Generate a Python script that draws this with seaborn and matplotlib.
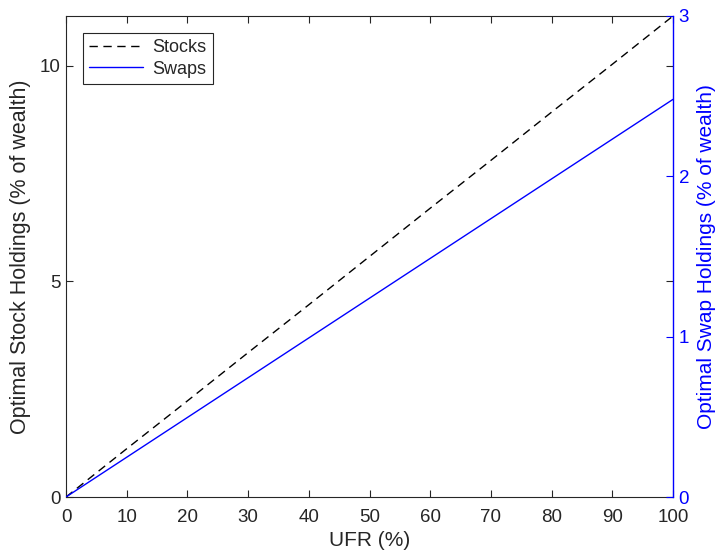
import numpy as np
import pandas as pd
import matplotlib
matplotlib.use("Agg")
import matplotlib.pyplot as plt
import seaborn as sns
from matplotlib.lines import Line2D

# values
ufr = [0, 10, 20, 30, 40, 50, 60, 70, 80, 90, 100]
stocks = [0, 1.12, 2.23, 3.35, 4.46, 5.58, 6.70, 7.81, 8.93, 10.04, 11.16]
swaps = [0, 0.248, 0.496, 0.744, 0.992, 1.24, 1.488, 1.736, 1.984, 2.232, 2.48]

df = pd.DataFrame({"UFR": ufr, "Stocks": stocks, "Swaps": swaps})

sns.set_style("ticks")
plt.rcParams["font.family"] = ["Liberation Sans", "DejaVu Sans"]

fig = plt.figure(figsize=(7.22, 5.54), dpi=100)
ax = fig.add_axes([66 / 722, 57 / 554, (673 - 66) / 722, (497 - 16) / 554])
ax2 = ax.twinx()

sns.lineplot(data=df, x="UFR", y="Stocks", ax=ax, color="black",
             linewidth=1.0, dashes=False)
ax.lines[0].set_dashes([6, 4])
sns.lineplot(data=df, x="UFR", y="Swaps", ax=ax2, color="blue", linewidth=1.0)

ax.set_xlim(0, 100)
ax.set_ylim(0, 11.16)
ax2.set_ylim(0, 3)
ax.set_xticks(range(0, 101, 10))
ax.set_yticks([0, 5, 10])
ax2.set_yticks([0, 1, 2, 3])

dark = "#262626"
for s in ["left", "top", "bottom"]:
    ax.spines[s].set_color(dark)
    ax.spines[s].set_linewidth(0.8)
ax.spines["right"].set_visible(False)
for s in ["left", "top", "bottom"]:
    ax2.spines[s].set_visible(False)
ax2.spines["right"].set_color("blue")
ax2.spines["right"].set_linewidth(1.0)

ax.tick_params(direction="in", length=5, width=0.8, colors=dark,
               labelsize=13.5, top=True, right=True, labelcolor=dark, pad=4)
ax.tick_params(axis="x", pad=9)
ax2.tick_params(direction="in", length=5, width=0.8, colors="blue",
                labelsize=13.5, labelcolor="blue", pad=4)

ax.set_xlabel("UFR (%)", fontsize=15, color=dark, labelpad=3)
ax.set_ylabel("Optimal Stock Holdings (% of wealth)", fontsize=15.5, color=dark,
              labelpad=6)
ax2.set_ylabel("Optimal Swap Holdings (% of wealth)", fontsize=15, color="blue",
               labelpad=6)

handles = [Line2D([], [], color="black", linewidth=1.0, dashes=[6, 4]),
           Line2D([], [], color="blue", linewidth=1.0)]
leg = ax.legend(handles, ["Stocks", "Swaps"], loc="upper left",
                bbox_to_anchor=(0.028, 0.965), borderaxespad=0, fontsize=13,
                fancybox=False, framealpha=1, edgecolor=dark, handlelength=3.0,
                borderpad=0.35, labelspacing=0.25, handletextpad=0.5)
leg.get_frame().set_linewidth(0.8)

fig.savefig("out.png", dpi=100)
